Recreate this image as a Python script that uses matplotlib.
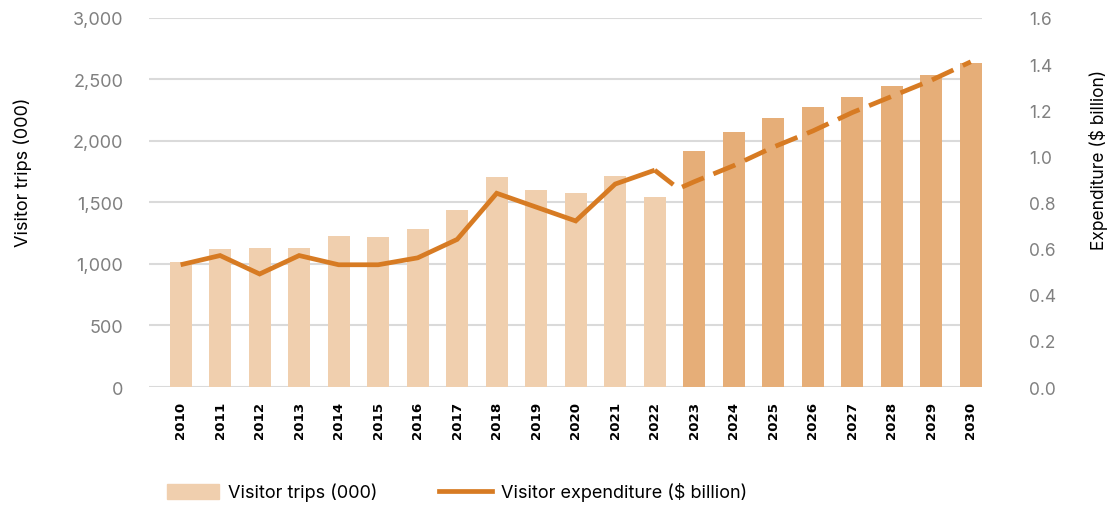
import matplotlib
matplotlib.use("Agg")
import matplotlib.pyplot as plt
from matplotlib.patches import Patch
from matplotlib.lines import Line2D
from matplotlib.ticker import FuncFormatter

# data
years = list(range(2010, 2031))
trips = [1015, 1120, 1130, 1130, 1225, 1220, 1285, 1435, 1705, 1605, 1575,
         1715, 1545, 1915, 2075, 2190, 2275, 2360, 2450, 2540, 2635]
first_forecast = 2023

spend_years = list(range(2010, 2023))
spend = [0.53, 0.57, 0.49, 0.57, 0.53, 0.53, 0.56, 0.64, 0.84, 0.78, 0.72, 0.88, 0.94]

proj_years = [2022, 2022.6, 2023, 2024, 2025, 2026, 2027, 2028, 2029, 2030]
proj = [0.94, 0.86, 0.89, 0.96, 1.04, 1.11, 1.19, 1.26, 1.33, 1.41]

light = "#F0CFAE"
dark = "#E6AE78"
line_c = "#D77B23"
tick_c = "#808080"

plt.rcParams["font.family"] = ["Inter", "DejaVu Sans"]

fig = plt.figure(figsize=(11.17, 5.06), dpi=100)
ax = fig.add_axes([0.1334, 0.2332, 0.7456, 0.7293])

colors = [light if y < first_forecast else dark for y in years]
ax.bar(years, trips, width=0.56, color=colors, zorder=2)
ax.set_ylim(0, 3000)
ax.set_yticks(range(0, 3001, 500))
ax.yaxis.set_major_formatter(FuncFormatter(lambda v, p: f"{int(v):,}"))
ax.set_xlim(2009.2, 2030.28)
ax.grid(axis="y", color="#DADADA", lw=1.5, zorder=0)
ax.set_axisbelow(True)
for s in ax.spines.values():
    s.set_visible(False)
ax.tick_params(axis="y", length=0, pad=18.5, labelsize=13, labelcolor=tick_c)
ax.tick_params(axis="x", length=0, pad=10)
ax.set_xticks(years)
ax.set_xticklabels([str(y) for y in years], rotation=90, fontsize=9.6,
                   fontweight="bold", family="DejaVu Sans")

ax2 = ax.twinx()
ax2.set_ylim(0, 1.6)
ax2.set_yticks([i * 0.2 for i in range(9)])
ax2.yaxis.set_major_formatter(FuncFormatter(lambda v, p: f"{v:.1f}"))
for s in ax2.spines.values():
    s.set_visible(False)
ax2.tick_params(axis="y", length=0, pad=34, labelsize=12.5, labelcolor=tick_c)

ax2.plot(spend_years, spend, color=line_c, lw=3.4, solid_joinstyle="miter",
         solid_capstyle="butt", zorder=3)
ax2.plot(proj_years, proj, color=line_c, lw=3.4, linestyle=(0, (5, 2.2)),
         dash_capstyle="butt", zorder=3)

fig.text(23 / 1117, 1 - 172 / 506, "Visitor trips (000)", rotation=90,
         ha="center", va="center", fontsize=13)
fig.text(1098 / 1117, 1 - 160 / 506, "Expenditure ($ billion)", rotation=90,
         ha="center", va="center", fontsize=12.5)

handles = [Patch(color=light), Line2D([0], [0], color=line_c, lw=3.4)]
labels = ["Visitor trips (000)", "Visitor expenditure ($ billion)"]
fig.legend(handles, labels, loc="center left", bbox_to_anchor=(167 / 1117, 1 - 493 / 506),
           ncol=2, frameon=False, fontsize=13, handlelength=2.9, handleheight=0.95,
           handletextpad=0.5, columnspacing=3.4, borderpad=0, borderaxespad=0)

fig.savefig("out.png", dpi=100)
